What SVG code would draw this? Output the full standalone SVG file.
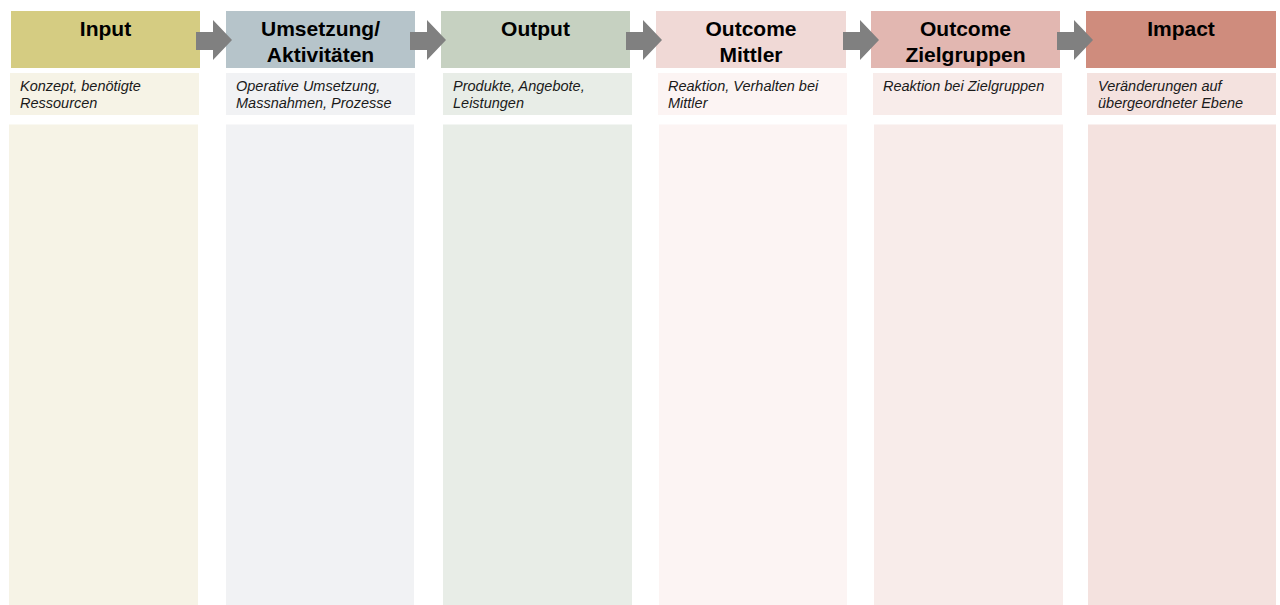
<svg xmlns="http://www.w3.org/2000/svg" width="1280" height="605" viewBox="0 0 1280 605">
<style>
.h{font-family:"Liberation Sans",Arial,sans-serif;font-weight:bold;font-size:21px;fill:#000;text-anchor:middle}
.d{font-family:"Liberation Sans",Arial,sans-serif;font-style:italic;font-size:14.5px;fill:#1a1a1a}
.arr{fill:#808080}
</style>
<defs>
<polygon id="arrow" class="arr" points="0,32 17,32 17,20 36,40 17,60 17,50 0,50"/>
</defs>
<rect width="1280" height="605" fill="#ffffff"/>
<g id="input">
<rect x="11" y="11" width="189" height="57" fill="#D5CC82"/>
<text class="h" x="105.5" y="36">Input</text>
<rect x="10" y="73" width="189" height="42" fill="#F6F3E6"/>
<text class="d" x="20" y="91">Konzept, benötigte</text>
<text class="d" x="20" y="107.5">Ressourcen</text>
<rect x="9" y="124.5" width="189" height="481" fill="#F6F3E6"/>
</g>
<g id="umsetzung">
<rect x="226" y="11" width="189" height="57" fill="#B6C4CA"/>
<text class="h" x="320.5" y="36">Umsetzung/</text>
<text class="h" x="320.5" y="62">Aktivitäten</text>
<rect x="226" y="73" width="189" height="42" fill="#F1F2F4"/>
<text class="d" x="236" y="91">Operative Umsetzung,</text>
<text class="d" x="236" y="107.5">Massnahmen, Prozesse</text>
<rect x="226" y="124.5" width="188" height="481" fill="#F1F2F4"/>
</g>
<g id="output">
<rect x="441" y="11" width="189" height="57" fill="#C6D1C1"/>
<text class="h" x="535.5" y="36">Output</text>
<rect x="443" y="73" width="189" height="42" fill="#E8EDE7"/>
<text class="d" x="453" y="91">Produkte, Angebote,</text>
<text class="d" x="453" y="107.5">Leistungen</text>
<rect x="443" y="124.5" width="189" height="481" fill="#E8EDE7"/>
</g>
<g id="outcome-mittler">
<rect x="656" y="11" width="190" height="57" fill="#F0D9D6"/>
<text class="h" x="751" y="36">Outcome</text>
<text class="h" x="751" y="62">Mittler</text>
<rect x="658" y="73" width="189" height="42" fill="#FCF4F3"/>
<text class="d" x="668" y="91">Reaktion, Verhalten bei</text>
<text class="d" x="668" y="107.5">Mittler</text>
<rect x="659" y="124.5" width="188" height="481" fill="#FCF4F3"/>
</g>
<g id="outcome-zielgruppen">
<rect x="871" y="11" width="189" height="57" fill="#E2B7B1"/>
<text class="h" x="965.5" y="36">Outcome</text>
<text class="h" x="965.5" y="62">Zielgruppen</text>
<rect x="873" y="73" width="189" height="42" fill="#F8ECEA"/>
<text class="d" x="883" y="91">Reaktion bei Zielgruppen</text>
<rect x="874" y="124.5" width="189" height="481" fill="#F8ECEA"/>
</g>
<g id="impact">
<rect x="1086" y="11" width="190" height="57" fill="#CF8C7D"/>
<text class="h" x="1181" y="36">Impact</text>
<rect x="1087" y="73" width="189" height="42" fill="#F4E2DF"/>
<text class="d" x="1098" y="91">Veränderungen auf</text>
<text class="d" x="1098" y="107.5">übergeordneter Ebene</text>
<rect x="1088" y="124.5" width="188" height="481" fill="#F4E2DF"/>
</g>
<g id="connectors">
<use href="#arrow" x="196"/>
<use href="#arrow" x="410"/>
<use href="#arrow" x="626"/>
<use href="#arrow" x="843"/>
<use href="#arrow" x="1057"/>
</g>
</svg>
